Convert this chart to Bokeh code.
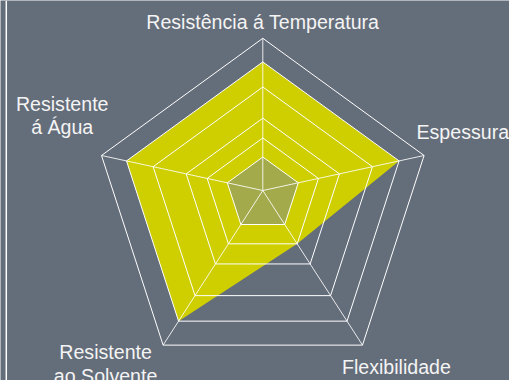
import numpy as np
from bokeh.plotting import figure
from bokeh.models import Range1d, Span, ColumnDataSource
from bokeh.core.properties import value
from bokeh.embed import file_html
from bokeh.resources import INLINE

# ---------------- data ----------------
categories = ["Resistência á Temperatura", "Espessura", "Flexibilidade",
              "Resistente\nao Solvente", "Resistente\ná Água"]
grid_levels = [22, 34.5, 47.5, 68, 84.5, 100]
series_main = [84.5, 84.5, 34.5, 84.5, 84.5]
series_inner = [22, 22, 22, 22, 22]
max_value = 100

# ---------------- layout / style ----------------
OFF = 0
W, H = 509 - 2 * OFF, 380 - 2 * OFF
SCALE = 1.696                      # px per data unit
ORIGIN_PX = (262.3 - OFF, 190.0 - OFF)
SHIFT = -0.1026                    # pentagon centre offset below spoke origin
BG = "#646d7a"
YELLOW = "#cfcf00"
OLIVE = "#a2aa4b"
TXT = "#f4f4f4"
FONT = value("Liberation Sans")
FSIZE = "19.6px"
LINE_H = 23.3
BASE_FIX = -5.5
label_dx = [0, -7.6, 33.9, -57.5, -39.3]
label_dy = [-11, -18.3, 27.4, 12.7, -46]
label_align = ["center", "left", "center", "center", "center"]

n = len(categories)
theta = np.arange(n) * 2 * np.pi / n
dir_x = np.sin(theta)
dir_y = np.cos(theta) + SHIFT


def poly(vals):
    v = np.asarray(vals, dtype=float) / max_value * 100
    return list(v * dir_x), list(v * dir_y)


x0 = -ORIGIN_PX[0] / SCALE
x1 = (W - ORIGIN_PX[0]) / SCALE
y1 = ORIGIN_PX[1] / SCALE
y0 = -(H - ORIGIN_PX[1]) / SCALE

p = figure(width=W, height=H, x_range=Range1d(x0, x1), y_range=Range1d(y0, y1),
           output_backend="svg", toolbar_location=None, min_border=0,
           x_axis_type=None, y_axis_type=None,
           background_fill_color=BG, border_fill_color=BG, outline_line_color=None)
p.grid.visible = False

# fills
mx, my = poly(series_main)
p.patch(mx, my, fill_color=YELLOW, line_color=None)
ix, iy = poly(series_inner)
p.patch(ix, iy, fill_color=OLIVE, line_color=None)

# grid pentagons
gxs, gys = [], []
for lv in grid_levels:
    gx, gy = poly([lv] * n)
    gxs.append(gx + [gx[0]])
    gys.append(gy + [gy[0]])
p.multi_line(gxs, gys, line_color="white", line_width=1)

# spokes
ox, oy = poly([max_value] * n)
p.segment(x0=[0] * n, y0=[0] * n, x1=ox, y1=oy, line_color="white", line_width=1, line_alpha=0.85)

# labels
lx, ly, lt, lxo, lyo, la = [], [], [], [], [], []
for k, cat in enumerate(categories):
    for i, line in enumerate(cat.split("\n")):
        lx.append(ox[k]); ly.append(oy[k]); lt.append(line)
        lxo.append(label_dx[k]); lyo.append(label_dy[k] + i * LINE_H + BASE_FIX)
        la.append(label_align[k])
src = ColumnDataSource(dict(x=lx, y=ly, text=lt, xo=lxo, yo=lyo, align=la))
p.text(x="x", y="y", text="text", x_offset="xo", y_offset="yo", text_align="align",
       text_baseline="alphabetic", text_font=FONT, text_font_size=FSIZE,
       text_color=TXT, source=src)

# left border line
p.add_layout(Span(location=x0 + (5.8 - OFF) / SCALE, dimension="height",
                  line_color="white", line_width=1.5))

open("out.html", "w").write(file_html(p, INLINE))
